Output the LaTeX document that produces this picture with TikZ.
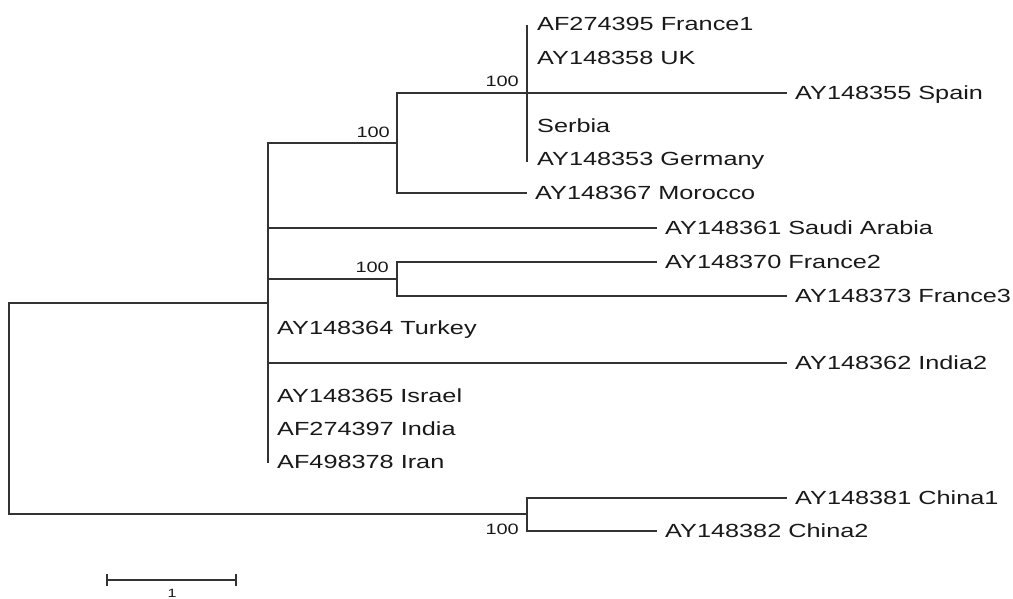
\documentclass[tikz,border=0pt]{standalone}
\usepackage{fontspec}
\setmainfont{Liberation Sans}[FakeStretch=1.33]
\begin{document}
\begin{tikzpicture}[x=1pt,y=-1pt,
  br/.style={draw=black!80, line width=1.6pt},
  leaf/.style={anchor=west, inner xsep=8pt, inner ysep=0pt, text height=13.6pt, text depth=0pt,
    font=\fontsize{19}{22}\selectfont, text=black!90},
  boot/.style={anchor=east, inner sep=0pt, text height=10.8pt, text depth=0pt,
    font=\fontsize{15}{17}\selectfont, text=black!90}]
\useasboundingbox (0,0) rectangle (1013,599);
% internal nodes
\coordinate (R) at (9,408.5);
\coordinate (A) at (268,303);
\coordinate (Abot) at (268,463);
\coordinate (B) at (397,143);
\coordinate (S) at (527,93);
\coordinate (Stop) at (527,25);
\coordinate (Sbot) at (527,162);
\coordinate (F) at (397,279);
\coordinate (C) at (527,514);
% leaves
\node[leaf] (fr1) at (529,24) {AF274395 France1};
\node[leaf] (uk) at (529,58) {AY148358 UK};
\node[leaf] (serbia) at (529,126) {Serbia};
\node[leaf] (ger) at (529,159) {AY148353 Germany};
\node[leaf] (spain) at (787,93) {AY148355 Spain};
\node[leaf] (mor) at (527,193) {AY148367 Morocco};
\node[leaf] (saudi) at (657,228) {AY148361 Saudi Arabia};
\node[leaf] (fr2) at (657,262) {AY148370 France2};
\node[leaf] (fr3) at (787,296) {AY148373 France3};
\node[leaf] (tur) at (269,328) {AY148364 Turkey};
\node[leaf] (ind2) at (787,363) {AY148362 India2};
\node[leaf] (isr) at (269,396) {AY148365 Israel};
\node[leaf] (ind) at (269,429) {AF274397 India};
\node[leaf] (iran) at (269,462) {AF498378 Iran};
\node[leaf] (ch1) at (787,498) {AY148381 China1};
\node[leaf] (ch2) at (657,531) {AY148382 China2};
% bootstrap values
\node[boot] (bS) at (519,81) {100};
\node[boot] (bB) at (390,132) {100};
\node[boot] (bF) at (389,267) {100};
\node[boot] (bC) at (519,529) {100};
% branches
\draw[br] (R) |- (A);
\draw[br] (R) |- (C);
\draw[br] (A) |- (B);
\draw[br] (A) -- (Abot);
\draw[br] (A) |- (saudi.west);
\draw[br] (A) |- (F);
\draw[br] (A) |- (ind2.west);
\draw[br] (B) |- (S);
\draw[br] (B) |- (mor.west);
\draw[br] (Stop) -- (Sbot);
\draw[br] (S) -- (spain.west);
\draw[br] (F) |- (fr2.west);
\draw[br] (F) |- (fr3.west);
\draw[br] (C) |- (ch1.west);
\draw[br] (C) |- (ch2.west);
% scale bar
\coordinate (sbL) at (107,580);
\coordinate (sbR) at (236,580);
\draw[br] (sbL) -- (sbR);
\draw[br] ([yshift=-6pt]sbL) -- ([yshift=6pt]sbL);
\draw[br] ([yshift=-6pt]sbR) -- ([yshift=6pt]sbR);
\node[anchor=south, inner sep=0pt, font=\fontsize{12}{13}\selectfont, text=black!90] (sblab) at (172,597.5) {1};
\end{tikzpicture}
\end{document}
